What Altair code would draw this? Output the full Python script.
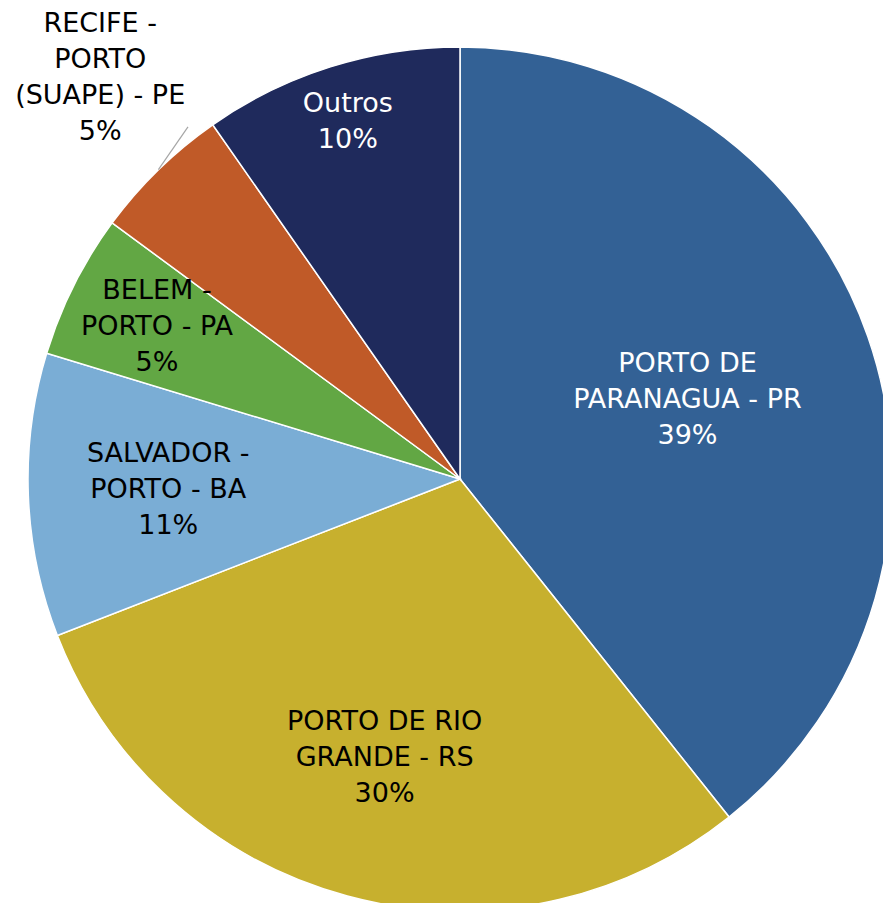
import altair as alt
import pandas as pd

# ---- data ----
ports = [
    "PORTO DE\nPARANAGUA - PR",
    "PORTO DE RIO\nGRANDE - RS",
    "SALVADOR -\nPORTO - BA",
    "BELEM -\nPORTO - PA",
    "RECIFE -\nPORTO\n(SUAPE) - PE",
    "Outros",
]
shares = [39.3, 29.8, 10.6, 5.4, 5.2, 9.7]
pct_labels = ["39%", "30%", "11%", "5%", "5%", "10%"]

# ---- styling ----
colors = ["#336195", "#c7b02e", "#7aadd5", "#62a744", "#c05a28", "#1f2a5c"]
text_colors = ["white", "black", "black", "black", "black", "white"]
label_radius = [241, 289, 292, 339, 539, 374]
label_angle_shift = [0, 0, 0, 0, 2.4, 0]  # degrees

CX, CY, R = 452, 471, 432
LINE_H = 36

labels_txt = [p + "\n" + s for p, s in zip(ports, pct_labels)]
df = pd.DataFrame({
    "order": list(range(len(ports))),
    "port": ports,
    "share": shares,
    "label": labels_txt,
    "nlines": [t.count("\n") + 1 for t in labels_txt],
    "tc": text_colors,
    "lr": label_radius,
    "shift": label_angle_shift,
})

base = alt.Chart(df)

pie = base.mark_arc(outerRadius=R, stroke="white", strokeWidth=1.5).encode(
    x=alt.value(CX),
    y=alt.value(CY),
    theta=alt.Theta("share:Q", stack=True),
    order=alt.Order("order:Q"),
    color=alt.Color("port:N", scale=alt.Scale(domain=ports, range=colors), legend=None),
)

with_mid = base.transform_joinaggregate(
    total="sum(share)"
).transform_window(
    cum="sum(share)", sort=[alt.SortField("order")], frame=[None, 0]
).transform_calculate(
    mid="(datum.cum - datum.share/2) / datum.total * 2 * PI"
)

labels = with_mid.transform_calculate(
    la="datum.mid + datum.shift * PI / 180"
).transform_calculate(
    lx=f"{CX} + datum.lr * sin(datum.la)",
    ly=f"{CY} - datum.lr * cos(datum.la) - (datum.nlines - 1) * {LINE_H / 2}",
).mark_text(
    font="DejaVu Sans", fontSize=27, lineHeight=LINE_H, lineBreak="\n",
    align="center", baseline="middle",
).encode(
    x=alt.X("lx:Q", scale=None),
    y=alt.Y("ly:Q", scale=None),
    text="label:N",
    color=alt.Color("tc:N", scale=None),
)

leader = with_mid.transform_filter("datum.order == 4").transform_calculate(
    x0=f"{CX} + {R} * sin(datum.mid)",
    y0=f"{CY} - {R} * cos(datum.mid)",
    x1=f"{CX} + {R + 13} * sin(datum.mid + 6.6 * PI / 180)",
    y1=f"{CY} - {R + 13} * cos(datum.mid + 6.6 * PI / 180)",
).mark_rule(color="#a6a6a6", strokeWidth=1.2).encode(
    x=alt.X("x0:Q", scale=None),
    y=alt.Y("y0:Q", scale=None),
    x2="x1:Q",
    y2="y1:Q",
)

chart = alt.layer(pie, leader, labels).properties(
    width=875, height=895,
    autosize=alt.AutoSizeParams(type="none"),
    padding=0,
).configure_view(stroke=None)

chart.save("out.html", embed_options={"renderer": "svg", "actions": False})
